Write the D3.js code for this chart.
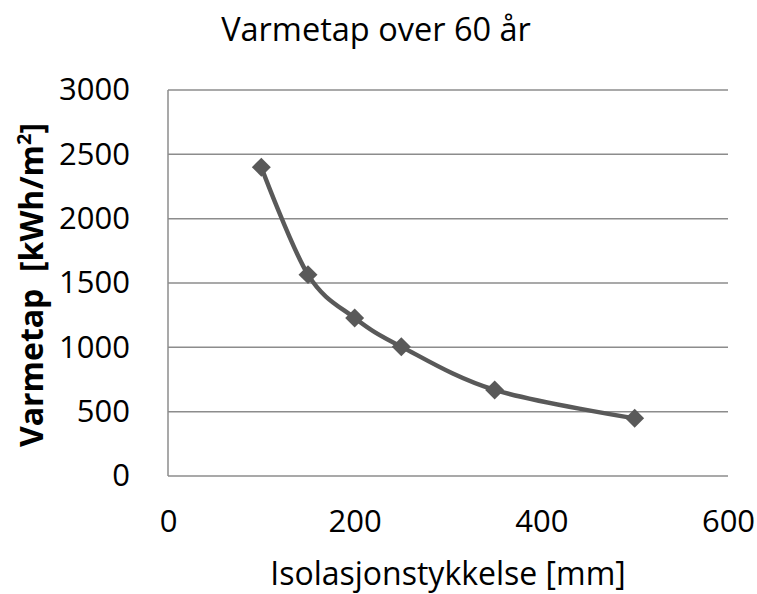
<!DOCTYPE html>
<html>
<head>
<meta charset="utf-8">
<script src="https://cdn.jsdelivr.net/npm/d3@7"></script>
<style>
  body { margin: 0; background: #fff; }
  svg { display: block; font-family: "Open Sans", sans-serif; }
</style>
</head>
<body>
<svg id="chart" width="757" height="594"></svg>
<script>
// data
const thickness = [100, 150, 200, 250, 350, 500];
const heatLoss = [2400, 1565, 1228, 1005, 669, 448];
const xTicks = [0, 200, 400, 600];
const yTicks = [0, 500, 1000, 1500, 2000, 2500, 3000];

const chartTitle = 'Varmetap over 60 år';
const xTitle = 'Isolasjonstykkelse [mm]';

const svg = d3.select('svg#chart'),
    svgWidth = 757,
    svgHeight = 594;

// plot box
const margin = { top: 90, right: 29, bottom: 118, left: 168 };
const gridColor = '#8c8c8c',
    lineColor = '#595959',
    tickFont = 31;

const x = d3.scaleLinear()
    .domain([0, 600])
    .range([margin.left, svgWidth - margin.right]);
const y = d3.scaleLinear()
    .domain([0, 3000])
    .range([svgHeight - margin.bottom, margin.top]);

// gridlines
svg.append('g')
    .selectAll('line')
    .data(yTicks)
    .join('line')
    .attr('x1', x(0))
    .attr('x2', x(600))
    .attr('y1', d => y(d))
    .attr('y2', d => y(d))
    .attr('stroke', gridColor)
    .attr('stroke-width', 1.5);

// left axis line
svg.append('line')
    .attr('x1', x(0)).attr('x2', x(0))
    .attr('y1', y(0)).attr('y2', y(3000))
    .attr('stroke', gridColor)
    .attr('stroke-width', 1.5);

// y axis labels
const yAxis = d3.axisLeft(y).tickValues(yTicks).tickFormat(d3.format('d')).tickSize(0).tickPadding(38);
svg.append('g')
    .attr('transform', `translate(${x(0)},0)`)
    .call(yAxis)
    .call(g => g.select('.domain').remove())
    .call(g => g.selectAll('text')
        .attr('font-size', tickFont)
        .attr('font-family', '"Open Sans", sans-serif')
        .attr('fill', '#000'));

// x axis labels
const xAxis = d3.axisBottom(x).tickValues(xTicks).tickFormat(d3.format('d')).tickSize(0).tickPadding(34);
svg.append('g')
    .attr('transform', `translate(0,${y(0)})`)
    .call(xAxis)
    .call(g => g.select('.domain').remove())
    .call(g => g.selectAll('text')
        .attr('font-size', tickFont)
        .attr('font-family', '"Open Sans", sans-serif')
        .attr('fill', '#000'));

// smoothed series line
const line = d3.line()
    .x((d, i) => x(thickness[i]))
    .y(d => y(d))
    .curve(d3.curveCatmullRom.alpha(0));

svg.append('path')
    .datum(heatLoss)
    .attr('d', line)
    .attr('fill', 'none')
    .attr('stroke', lineColor)
    .attr('stroke-width', 4.5)
    .attr('stroke-linejoin', 'round');

// diamond markers
svg.append('g')
    .selectAll('path')
    .data(heatLoss)
    .join('path')
    .attr('d', d3.symbol(d3.symbolSquare, 180))
    .attr('transform', (d, i) => `translate(${x(thickness[i])},${y(d)}) rotate(45)`)
    .attr('fill', lineColor);

// titles
svg.append('text')
    .text(chartTitle)
    .attr('x', 376)
    .attr('y', 41)
    .attr('text-anchor', 'middle')
    .attr('font-size', 32.5)
    .attr('fill', '#000');

svg.append('text')
    .text(xTitle)
    .attr('x', (x(0) + x(600)) / 2)
    .attr('y', 585)
    .attr('text-anchor', 'middle')
    .attr('font-size', 32)
    .attr('fill', '#000');

const yTitle = svg.append('text')
    .attr('transform', 'translate(43,285) rotate(-90)')
    .attr('text-anchor', 'middle')
    .attr('font-size', 32)
    .attr('font-weight', 'bold')
    .attr('fill', '#000');
yTitle.append('tspan').text('Varmetap\u00a0\u00a0[kWh/m');
yTitle.append('tspan').text('2').attr('font-size', 20).attr('dy', -12);
yTitle.append('tspan').text(']').attr('dy', 12);
</script>
</body>
</html>
